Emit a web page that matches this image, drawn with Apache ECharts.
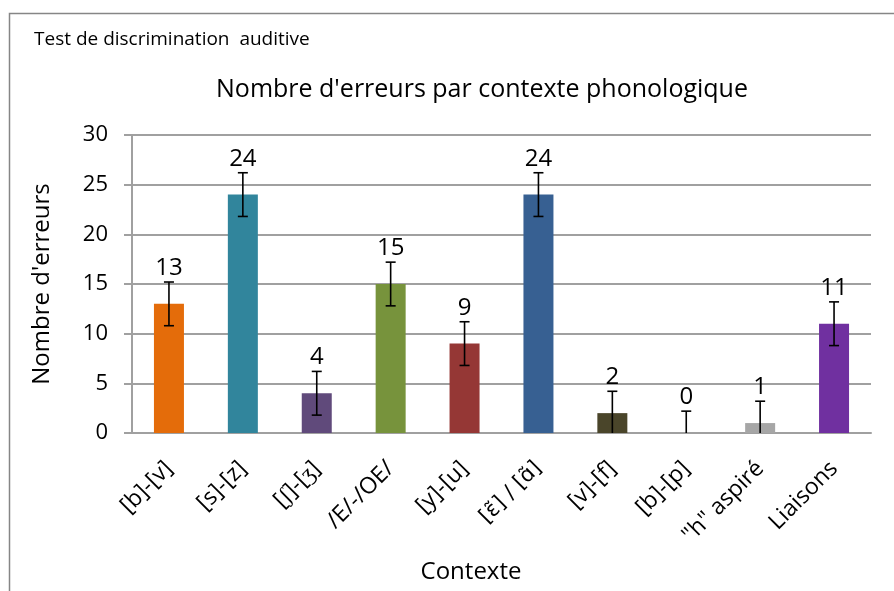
<!DOCTYPE html>
<html>
<head>
<meta charset="utf-8">
<script src="https://cdn.jsdelivr.net/npm/echarts@6/dist/echarts.min.js"></script>
<style>
    html, body { margin: 0; padding: 0; background: #fff; }
    #chart { width: 894px; height: 591px; }
</style>
</head>
<body>
<div id="chart"></div>
<script>
// contextes phonologiques
const categories = ['[b]-[v]', '[s]-[z]', '[ʃ]-[ʒ]', '/E/-/OE/', '[y]-[u]', '[ɛ̃] / [ɑ̃]', '[v]-[f]', '[b]-[p]', '"h" aspiré', 'Liaisons'];
const errors = [13, 24, 4, 15, 9, 24, 2, 0, 1, 11];
const errorMargin = [2.2, 2.2, 2.2, 2.2, 2.2, 2.2, 2.2, 2.2, 2.2, 2.2];
const barColors = ['#E46C0A', '#31859C', '#604A7B', '#77933C', '#953735', '#376092', '#4A452A', '#A6A6A6', '#A6A6A6', '#7030A0'];
const yTicks = [0, 5, 10, 15, 20, 25, 30];

const FONT = 'Open Sans';

const chart = echarts.init(document.getElementById('chart'));

// barres d'erreur + etiquettes de valeur
const renderError = (params, api) => {
    const i = api.value(0);
    const v = api.value(1);
    const e = api.value(2);
    const top = api.coord([i, v + e]);
    const low = api.coord([i, Math.max(0, v - e)]);
    const cap = 5;
    const children = [
        { type: 'line', shape: { x1: top[0], y1: top[1], x2: low[0], y2: low[1] }, style: { stroke: '#000', lineWidth: 1.6 } },
        { type: 'line', shape: { x1: top[0] - cap, y1: top[1], x2: top[0] + cap, y2: top[1] }, style: { stroke: '#000', lineWidth: 1.6 } },
        {
            type: 'text',
            x: top[0], y: top[1] - 2,
            style: { text: String(v), textAlign: 'center', textVerticalAlign: 'bottom', fontFamily: FONT, fontSize: 24, fill: '#000' }
        }
    ];
    if (v - e > 0) {
        children.push({ type: 'line', shape: { x1: low[0] - cap, y1: low[1], x2: low[0] + cap, y2: low[1] }, style: { stroke: '#000', lineWidth: 1.6 } });
    }
    return { type: 'group', children };
};

const option = {
    backgroundColor: '#fff',
    animation: false,
    textStyle: { fontFamily: FONT },
    title: [
        {
            text: 'Test de discrimination  auditive',
            left: 29, top: 25,
            textStyle: { fontFamily: FONT, fontSize: 19, fontWeight: 'normal', color: '#000' }
        },
        {
            text: "Nombre d'erreurs par contexte phonologique",
            left: 477, top: 72, textAlign: 'center',
            textStyle: { fontFamily: FONT, fontSize: 25, fontWeight: 'normal', color: '#000' }
        },
        {
            text: 'Contexte',
            left: 466, top: 555, textAlign: 'center',
            textStyle: { fontFamily: FONT, fontSize: 24, fontWeight: 'normal', color: '#000' }
        }
    ],
    graphic: [
        { type: 'polyline', shape: { points: [[9.5, 591], [9.5, 13.5], [894, 13.5]] }, style: { stroke: '#868686', lineWidth: 1.5, fill: null } }
    ],
    grid: { left: 132, right: 23, top: 135, bottom: 158 },
    xAxis: {
        type: 'category',
        data: categories,
        axisLine: { lineStyle: { color: '#A0A0A0', width: 2 } },
        axisTick: { show: false },
        axisLabel: {
            rotate: 45, margin: 32, fontFamily: FONT, fontSize: 23, color: '#000', interval: 0,
            // les voyelles nasales ont besoin d'une police avec le tilde combinant
            formatter: value => /\u0303/.test(value) ? '{ipa|' + value + '}' : value,
            rich: { ipa: { fontFamily: 'DejaVu Sans', fontSize: 21, color: '#000' } }
        }
    },
    yAxis: {
        type: 'value',
        min: yTicks[0],
        max: yTicks[yTicks.length - 1],
        interval: 5,
        name: "Nombre d'erreurs",
        nameLocation: 'middle',
        nameGap: 78,
        nameTextStyle: { fontFamily: FONT, fontSize: 24, color: '#000' },
        axisLine: { show: true, lineStyle: { color: '#A0A0A0', width: 2 } },
        axisTick: { show: true, length: 8, lineStyle: { color: '#A0A0A0', width: 2 } },
        axisLabel: { margin: 24, fontFamily: FONT, fontSize: 22, color: '#000' },
        splitLine: { lineStyle: { color: '#A0A0A0', width: 2 } }
    },
    series: [
        {
            type: 'bar',
            barWidth: 30,
            data: errors.map((v, i) => ({ value: v, itemStyle: { color: barColors[i] } }))
        },
        {
            type: 'custom',
            renderItem: renderError,
            encode: { x: 0, y: 1 },
            z: 10,
            data: errors.map((v, i) => [i, v, errorMargin[i]])
        }
    ]
};

chart.setOption(option);
</script>
</body>
</html>
